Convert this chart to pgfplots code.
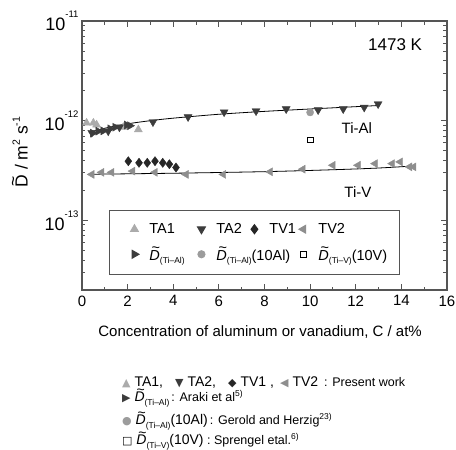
\documentclass[border=0pt]{standalone}
\usepackage{pgfplots}
\pgfplotsset{compat=1.18}
\usepackage{fontspec}
\setmainfont{Liberation Sans}
\newfontfamily\symfont{DejaVu Sans}

\definecolor{cTAone}{HTML}{ABABAB}
\definecolor{cTAtwo}{HTML}{3C3C3C}
\definecolor{cTVone}{HTML}{262626}
\definecolor{cTVtwo}{HTML}{8E8E8E}
\definecolor{cAraki}{HTML}{3C3C3C}
\definecolor{cGerold}{HTML}{9C9C9C}
\definecolor{cFrame}{HTML}{555555}

% interdiffusion coefficient symbol: D with a tilde on top
\newcommand{\Dt}{\begingroup\setbox0\hbox{\textit{D}}%
  \leavevmode\rlap{\hbox to\wd0{\hss\kern0.15em\raisebox{0.5em}{\textasciitilde}\hss}}\box0\endgroup}
\newcommand{\Du}{\begingroup\setbox0\hbox{D}%
  \leavevmode\rlap{\hbox to\wd0{\hss\raisebox{0.5em}{\textasciitilde}\hss}}\box0\endgroup}
\newcommand{\sub}[1]{\raisebox{-0.45ex}{\fontsize{8.5}{9}\selectfont #1}}
\newcommand{\sups}[1]{\raisebox{0.42em}{\fontsize{8.5}{9}\selectfont #1}}
\newcommand{\ysup}[1]{\raisebox{0.45em}{\fontsize{10.5}{11}\selectfont #1}}
\newcommand{\ylab}[1]{10\raisebox{0.72em}{\fontsize{9.5}{10}\selectfont #1}}
\newcommand{\sym}[2]{{\symfont\fontsize{11}{11}\selectfont\color{#1}#2}}

\begin{document}
\begin{tikzpicture}
\begin{axis}[
  at={(0pt,0pt)}, anchor=south west,
  width=365pt, height=269pt, scale only axis,
  xmin=0, xmax=16,
  ymode=log, ymin=2e-14, ymax=1e-11,
  xtick={0,2,...,16},
  minor xtick={1,3,...,15},
  ytick={1e-13,1e-12,1e-11},
  yticklabels={\ylab{-13},\ylab{-12},\ylab{-11}},
  minor ytick={2e-14,3e-14,4e-14,5e-14,6e-14,7e-14,8e-14,9e-14,
               2e-13,3e-13,4e-13,5e-13,6e-13,7e-13,8e-13,9e-13,
               2e-12,3e-12,4e-12,5e-12,6e-12,7e-12,8e-12,9e-12},
  /pgf/number format/assume math mode=true,
  xticklabel style={font=\fontsize{15}{15}\selectfont, yshift=-2pt},
  yticklabel style={font=\fontsize{18}{18}\selectfont},
  axis line style={cFrame, line width=1.1pt},
  every tick/.style={cFrame, line width=0.9pt},
  major tick length=6pt, minor tick length=3.5pt,
  xlabel={Concentration of aluminum or vanadium, C / at\%},
  every axis x label/.style={at={(axis description cs:0.488,-0.156)}, anchor=center,
    font=\fontsize{15}{15}\selectfont},
  ylabel={\Du\ / m\ysup{2} s\ysup{-1}},
  every axis y label/.style={at={(axis description cs:-0.170,0.513)}, anchor=center,
    rotate=90, font=\fontsize{17.5}{18}\selectfont},
  legend columns=4,
  % a single mark, centred in a fixed-width cell
  legend image code/.code={\path[draw=none, fill=none] (0pt,0pt) -- (28pt,0pt);
     \draw[#1] plot coordinates {(15pt,0pt)};},
  legend style={at={(axis description cs:0.074,0.056)}, anchor=south west,
    draw=cFrame, line width=0.9pt, font=\fontsize{14.5}{16}\selectfont,
    column sep=0pt, row sep=8pt, inner xsep=10pt, inner ysep=11pt},
  legend cell align=left,
]

% fitted curves
\addplot[black, line width=0.8pt, smooth, forget plot] coordinates {
  (0.3,0.76e-12) (1,0.84e-12) (2,0.93e-12) (3,1.0e-12) (4,1.06e-12)
  (6,1.16e-12) (8,1.24e-12) (10,1.31e-12) (13,1.42e-12)};
\addplot[black, line width=0.8pt, smooth, forget plot] coordinates {
  (0.3,0.290e-12) (4,0.297e-12) (8,0.308e-12) (11,0.322e-12)
  (13,0.335e-12) (14.6,0.352e-12)};

% TA1
\addplot[only marks, mark=triangle*, mark size=4.6pt, draw=cTAone, fill=cTAone] coordinates {
  (0.20,0.95e-12) (0.50,0.95e-12) (0.64,0.91e-12) (1.81,0.86e-12) (2.47,0.815e-12)};
\addlegendentry{\makebox[35pt][l]{TA1}}

% TA2
\addplot[only marks, mark=triangle*, mark size=4.6pt, mark options={rotate=180},
  draw=cTAtwo, fill=cTAtwo] coordinates {
  (0.43,0.76e-12) (1.15,0.785e-12) (1.64,0.86e-12)
  (3.11,0.97e-12) (4.65,1.09e-12) (6.23,1.22e-12) (7.63,1.25e-12) (8.95,1.31e-12)
  (10.35,1.28e-12) (11.45,1.31e-12) (12.37,1.36e-12) (12.98,1.47e-12)};
\addlegendentry{\makebox[21pt][l]{TA2}}

% TV1
\addplot[only marks, mark=diamond*, mark size=4.6pt, draw=cTVone, fill=cTVone] coordinates {
  (2.03,0.392e-12) (2.50,0.378e-12) (2.86,0.378e-12) (3.20,0.392e-12)
  (3.54,0.378e-12) (3.83,0.366e-12) (4.12,0.339e-12)};
\addlegendentry{\makebox[17pt][l]{TV1}}

% TV2
\addplot[only marks, mark=triangle*, mark size=4.6pt, mark options={rotate=90},
  draw=cTVtwo, fill=cTVtwo] coordinates {
  (0.43,0.289e-12) (0.86,0.303e-12) (1.30,0.303e-12) (2.22,0.312e-12)
  (3.20,0.303e-12) (4.56,0.289e-12) (6.20,0.289e-12) (8.25,0.307e-12)
  (9.68,0.326e-12) (11.0,0.357e-12) (12.1,0.357e-12) (12.85,0.371e-12)
  (13.6,0.371e-12) (13.95,0.386e-12) (14.36,0.344e-12) (14.54,0.344e-12)};
\addlegendentry{TV2}

% Araki et al.
\addplot[only marks, mark=triangle*, mark size=4.6pt, mark options={rotate=-90},
  draw=cAraki, fill=cAraki] coordinates {
  (0.47,0.75e-12) (0.71,0.785e-12) (0.93,0.79e-12) (1.23,0.83e-12)
  (1.45,0.86e-12) (1.96,0.905e-12) (2.10,0.89e-12)};
\addlegendentry{\makebox[35pt][l]{\Dt\sub{(Ti--Al)}}}

% Gerold and Herzig
\addplot[only marks, mark=*, mark size=3.6pt, draw=cGerold, fill=cGerold] coordinates {
  (10.0,1.21e-12)};
\addlegendentry{\makebox[21pt][l]{\Dt\sub{(Ti--Al)}(10Al)}}

\addlegendimage{empty legend}
\addlegendentry{\makebox[17pt][l]{}}

% Sprengel et al.
\addplot[only marks, mark=square, mark size=2.7pt, draw=black, line width=0.6pt] coordinates {
  (10.0,0.647e-12)};
\addlegendentry{\Dt\sub{(Ti--V)}(10V)}

\node[font=\fontsize{17}{17}\selectfont] at (axis description cs:0.858,0.911) {1473 K};
\node[font=\fontsize{15}{15}\selectfont] at (axis description cs:0.753,0.602) {Ti-Al};
\node[font=\fontsize{15}{15}\selectfont] at (axis description cs:0.756,0.364) {Ti-V};
\end{axis}

% sources of the data
\begin{scope}[every node/.style={anchor=base west, inner sep=0pt}]
\node at (40pt,-96pt) {\fontsize{14}{14}\selectfont
  \makebox[53pt][l]{\sym{cTAone}{▲} TA1,}%
  \makebox[53pt][l]{\sym{cTAtwo}{▼} TA2,}%
  \makebox[52pt][l]{\sym{cTVone}{◆} TV1 ,}%
  \makebox[44pt][l]{\sym{cTVtwo}{◀} TV2}%
  {\fontsize{12.5}{12.5}\selectfont: Present work}};
\node at (40pt,-112pt) {\fontsize{14}{14}\selectfont
  \sym{cAraki}{▶} \Dt\sub{(Ti--Al)}{\fontsize{12.5}{12.5}\selectfont\,: Araki et al\sups{5)}}};
\node at (40pt,-135pt) {\fontsize{14}{14}\selectfont
  \sym{cGerold}{●} \Dt\sub{(Ti--Al)}(10Al){\fontsize{12.5}{12.5}\selectfont\,: Gerold and Herzig\sups{23)}}};
\node at (40pt,-155pt) {\fontsize{14}{14}\selectfont
  \sym{black}{□} \Dt\sub{(Ti--V)}(10V){\fontsize{12.5}{12.5}\selectfont\ : Sprengel etal.\sups{6)}}};
\end{scope}

\pgfresetboundingbox
\path (-82pt,-160pt) rectangle (374pt,290pt);
\end{tikzpicture}
\end{document}
